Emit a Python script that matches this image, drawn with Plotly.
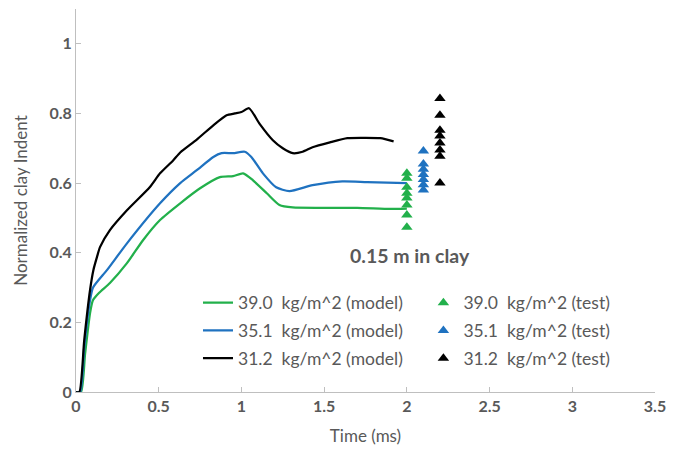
import plotly.graph_objects as go

# Model curves: normalized clay indent vs time (ms)
t_39 = [0, 0.03, 0.055, 0.085, 0.103, 0.14, 0.205, 0.308, 0.405, 0.508, 0.63, 0.75,
        0.87, 0.95, 1.01, 1.07, 1.155, 1.23, 1.31, 1.5, 1.7, 1.9, 2.0]
v_39 = [0, 0, 0.11, 0.227, 0.264, 0.285, 0.313, 0.37, 0.436, 0.494, 0.542, 0.585,
        0.617, 0.62, 0.628, 0.608, 0.57, 0.537, 0.53, 0.529, 0.529, 0.526, 0.527]

t_35 = [0, 0.025, 0.05, 0.085, 0.103, 0.187, 0.308, 0.508, 0.63, 0.73, 0.83, 0.88,
        0.95, 1.02, 1.06, 1.13, 1.21, 1.29, 1.43, 1.61, 1.76, 2.0]
v_35 = [0, 0, 0.13, 0.264, 0.30, 0.35, 0.427, 0.542, 0.60, 0.637, 0.675, 0.686,
        0.686, 0.69, 0.675, 0.628, 0.588, 0.577, 0.594, 0.605, 0.603, 0.60]

t_31 = [0, 0.02, 0.05, 0.085, 0.105, 0.127, 0.145, 0.205, 0.308, 0.447, 0.508, 0.587,
        0.63, 0.73, 0.83, 0.91, 0.96, 1.0, 1.046, 1.11, 1.19, 1.25, 1.31, 1.37,
        1.43, 1.535, 1.64, 1.74, 1.84, 1.92]
v_31 = [0, 0, 0.15, 0.293, 0.35, 0.388, 0.416, 0.465, 0.522, 0.589, 0.628, 0.665,
        0.688, 0.725, 0.766, 0.795, 0.80, 0.804, 0.815, 0.77, 0.723, 0.70, 0.686, 0.69,
        0.703, 0.717, 0.729, 0.73, 0.729, 0.72]

# Test measurements
test_t_39 = [2.0] * 8
test_v_39 = [0.628, 0.614, 0.588, 0.571, 0.557, 0.537, 0.508, 0.473]
test_t_35 = [2.1] * 7
test_v_35 = [0.692, 0.655, 0.64, 0.625, 0.61, 0.595, 0.58]
test_t_31 = [2.2] * 8
test_v_31 = [0.843, 0.795, 0.752, 0.735, 0.715, 0.695, 0.677, 0.60]

x_ticks = [0, 0.5, 1, 1.5, 2, 2.5, 3, 3.5]
x_tick_text = ["0", "0.5", "1", "1.5", "2", "2.5", "3", "3.5"]
y_ticks = [0, 0.2, 0.4, 0.6, 0.8, 1.0]
y_tick_text = ["0", "0.2", "0.4", "0.6", "0.8", "1"]

GREEN = "#22B04B"
BLUE = "#1F72C0"
BLACK = "#000000"
GREY = "#595959"
AXIS = "#BFBFBF"
NB = "\u00a0"
FONT = "Lato"

fig = go.Figure()

models = [(t_39, v_39, GREEN, "39.0"), (t_35, v_35, BLUE, "35.1"), (t_31, v_31, BLACK, "31.2")]
for i, (t, v, c, lbl) in enumerate(models):
    fig.add_trace(go.Scatter(
        x=t, y=v, mode="lines",
        line=dict(color=c, width=2.25, shape="spline", smoothing=0.6),
        name=f"{lbl}{NB}{NB}kg/m^2 (model)", legend="legend", legendgroup=f"m{i}"))

tests = [(test_t_39, test_v_39, GREEN, "39.0"), (test_t_35, test_v_35, BLUE, "35.1"),
         (test_t_31, test_v_31, BLACK, "31.2")]
for i, (t, v, c, lbl) in enumerate(tests):
    fig.add_trace(go.Scatter(
        x=t, y=v, mode="markers",
        marker=dict(symbol="triangle-up", size=10, color=c),
        name=f"{lbl}{NB}{NB}kg/m^2 (test)", legend="legend2", legendgroup=f"t{i}"))

fig.add_annotation(x=2.02, y=0.393, xref="x", yref="y", text="<b>0.15 m in clay</b>",
                   showarrow=False, font=dict(family=FONT, size=19.5, color=GREY))

legend_common = dict(bgcolor="rgba(0,0,0,0)", font=dict(family=FONT, size=17.5, color=GREY),
                     traceorder="grouped", tracegroupgap=2, xanchor="left",
                     yanchor="top", xref="paper", yref="paper")

fig.update_layout(
    width=674, height=450,
    margin=dict(l=76, r=19, t=9, b=58),
    paper_bgcolor="white", plot_bgcolor="white",
    font=dict(family=FONT, color=GREY),
    showlegend=True,
    legend=dict(x=0.2107, y=0.28, **legend_common),
    legend2=dict(x=0.6, y=0.28, **legend_common),
    xaxis=dict(range=[0, 3.5], tickvals=x_ticks, ticktext=x_tick_text,
               showgrid=False, zeroline=False, showline=True, linecolor=AXIS,
               linewidth=1, ticks="inside", ticklen=5, tickcolor=AXIS,
               tickfont=dict(family=FONT, size=16, color=GREY, weight="bold"),
               title=dict(text="Time (ms)", font=dict(family=FONT, size=17, color=GREY), standoff=15)),
    yaxis=dict(range=[0, 1.1], tickvals=y_ticks, ticktext=y_tick_text,
               showgrid=False, zeroline=False, showline=True, linecolor=AXIS,
               linewidth=1, ticks="inside", ticklen=5, tickcolor=AXIS,
               tickfont=dict(family=FONT, size=16, color=GREY, weight="bold"),
               title=dict(text="Normalized clay Indent", font=dict(family=FONT, size=17, color=GREY), standoff=17)),
)

fig.write_html("out.html")
